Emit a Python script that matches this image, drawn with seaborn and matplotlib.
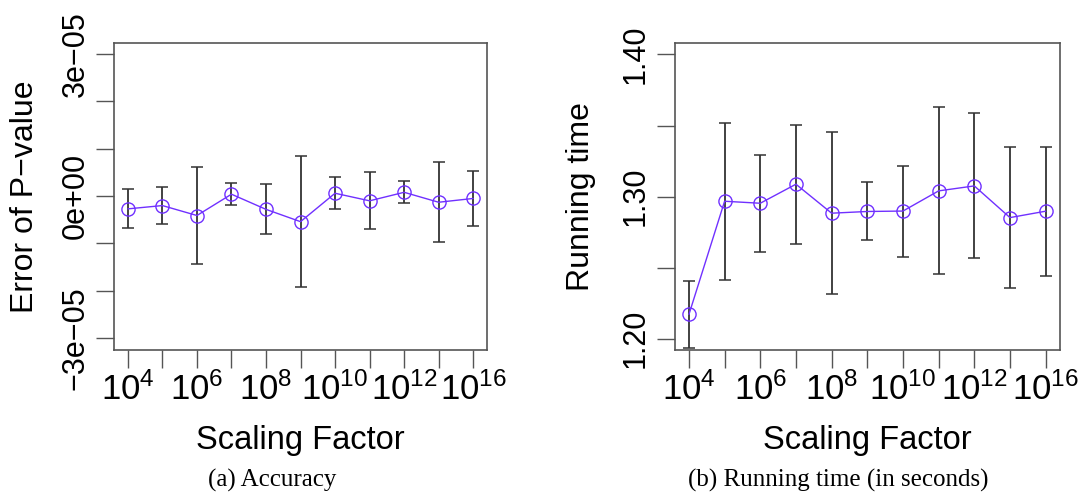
import numpy as np
import matplotlib
matplotlib.use("Agg")
import matplotlib.pyplot as plt
import pandas as pd
import seaborn as sns

# valeurs (11 facteurs d'échelle)
scale_labels = ["$10^{4}$", "", "$10^{6}$", "", "$10^{8}$", "",
                "$10^{10}$", "", "$10^{12}$", "", "$10^{16}$"]
position = np.arange(1, 12)

# (a) erreur de la P-value, en unités de 1e-05
err_mean = [-0.27, -0.20, -0.41, 0.04, -0.28, -0.54, 0.06, -0.10, 0.08, -0.13, -0.05]
err_sd = [0.41, 0.385, 1.02, 0.235, 0.53, 1.38, 0.335, 0.60, 0.23, 0.84, 0.585]

# (b) temps d'exécution en secondes
time_mean = [1.217, 1.2967, 1.2953, 1.3087, 1.2883, 1.2895, 1.2898, 1.304, 1.3075, 1.2852, 1.2897]
time_sd = [0.0239, 0.0552, 0.034, 0.042, 0.057, 0.0204, 0.032, 0.0587, 0.051, 0.0498, 0.0453]

sns.set_theme(style="white")
plt.rcParams["font.family"] = ["Liberation Sans", "DejaVu Sans"]
plt.rcParams["mathtext.fontset"] = "custom"
plt.rcParams["mathtext.rm"] = "Liberation Sans"
plt.rcParams["mathtext.it"] = "Liberation Sans"
plt.rcParams["text.color"] = "black"
plt.rcParams["axes.labelcolor"] = "black"
plt.rcParams["xtick.color"] = "black"
plt.rcParams["ytick.color"] = "black"

line_col = "#7030FF"
bar_col = "#333333"
frame_col = "#555555"

df_a = pd.DataFrame({"pos": position, "val": np.array(err_mean) * 1e-5, "sd": np.array(err_sd) * 1e-5})
df_b = pd.DataFrame({"pos": position, "val": time_mean, "sd": time_sd})

fig = plt.figure(figsize=(10.81, 4.95), dpi=100)
ax1 = fig.add_axes([0.1055, 0.2929, 0.345, 0.620])
ax2 = fig.add_axes([0.6241, 0.2929, 0.3564, 0.620])


def panel(ax, df, yticks, ylabels, ylim, ylab, ypad):
    ax.errorbar(df["pos"], df["val"], yerr=df["sd"], fmt="none", ecolor=bar_col,
                elinewidth=1.3, capsize=4, capthick=1.1, zorder=1)
    sns.lineplot(data=df, x="pos", y="val", ax=ax, color=line_col, linewidth=1.0,
                 marker="o", markersize=9.5, markerfacecolor="none",
                 markeredgecolor=line_col, markeredgewidth=1.0, zorder=3)
    ax.set_xlim(0.6, 11.4)
    ax.set_ylim(*ylim)
    ax.set_xticks(position)
    ax.set_xticklabels(scale_labels, fontsize=25)
    ax.set_yticks(yticks)
    ax.set_yticklabels(ylabels, fontsize=22, rotation=90, va="center")
    ax.tick_params(axis="both", direction="out", length=13, width=1.0,
                   color=frame_col, bottom=True, left=True)
    ax.tick_params(axis="x", pad=3)
    ax.tick_params(axis="y", pad=4)
    for s in ax.spines.values():
        s.set_color(frame_col)
        s.set_linewidth(1.2)
    ax.set_xlabel("Scaling Factor", fontsize=23.5, labelpad=13)
    ax.set_ylabel(ylab, fontsize=23, labelpad=ypad)


panel(ax1, df_a, np.arange(-3, 4) * 1e-5,
      ["−3e−05", "", "", "0e+00", "", "", "3e−05"],
      (-3.25e-5, 3.23e-5), "Error of P−value", 15)
panel(ax2, df_b, [1.20, 1.25, 1.30, 1.35, 1.40],
      ["1.20", "", "1.30", "", "1.40"],
      (1.192, 1.408), "Running time", 18)

fig.text(0.2516, 0.03, "(a) Accuracy", ha="center", va="center",
         fontsize=18, family=["Liberation Serif", "DejaVu Serif"])
fig.text(0.775, 0.03, "(b) Running time (in seconds)", ha="center", va="center",
         fontsize=18, family=["Liberation Serif", "DejaVu Serif"])

fig.savefig("out.png", dpi=100)
